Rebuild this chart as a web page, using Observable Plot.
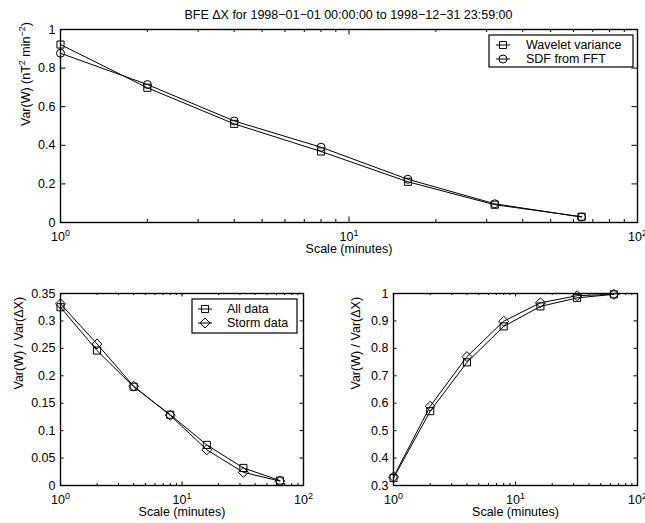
<!DOCTYPE html>
<html>
<head>
<meta charset="utf-8">
<script src="https://cdn.jsdelivr.net/npm/d3@7"></script>
<script src="https://cdn.jsdelivr.net/npm/@observablehq/plot@0.6"></script>
<style>
  html, body { margin: 0; padding: 0; background: white; }
  #wrap { position: relative; width: 645px; height: 523px; overflow: hidden; background: white;
          font-family: "Liberation Sans", Arial, Helvetica, sans-serif; }
  .abs { position: absolute; }
</style>
</head>
<body>
<div id="wrap"></div>
<script>
// ---------- data ----------
const scales = [1, 2, 4, 8, 16, 32, 64];
const waveletVariance = [0.922, 0.698, 0.511, 0.368, 0.211, 0.092, 0.030];
const sdfFromFFT      = [0.877, 0.715, 0.526, 0.390, 0.224, 0.097, 0.028];
const allData   = [0.325, 0.246, 0.180, 0.129, 0.074, 0.032, 0.009];
const stormData = [0.331, 0.258, 0.181, 0.128, 0.065, 0.024, 0.008];
const allCum    = [0.327, 0.571, 0.749, 0.880, 0.953, 0.984, 0.997];
const stormCum  = [0.331, 0.589, 0.770, 0.899, 0.966, 0.992, 0.997];
const xMajor = [1, 10, 100];
const xMinor = [2, 3, 4, 5, 6, 7, 8, 9, 20, 30, 40, 50, 60, 70, 80, 90];
const yTicksTop = [0, 0.2, 0.4, 0.6, 0.8, 1];
const yTicksBL  = [0, 0.05, 0.1, 0.15, 0.2, 0.25, 0.3, 0.35];
const yTicksBR  = [0.3, 0.4, 0.5, 0.6, 0.7, 0.8, 0.9, 1];
const titleText = "BFE \u0394X for 1998\u221201\u221201 00:00:00 to 1998\u221212\u221231 23:59:00";
const xLabel = "Scale (minutes)";
const yLabelTop = "Var(W) (nT^{2} min^{\u22122})";
const yLabelRatio = "Var(W) / Var(\u0394X)";
const legendTop = ["Wavelet variance", "SDF from FFT"];
const legendBottom = ["All data", "Storm data"];

const FONT = "Liberation Sans, Arial, Helvetica, sans-serif";
const FS = 12.5;
const wrap = document.getElementById("wrap");

function supify(svgEl) {
  svgEl.querySelectorAll("text").forEach(t => {
    const s = t.textContent;
    if (!s.includes("^")) return;
    const re = /\^\{([^}]*)\}|\^(\S)/g;
    const parts = [];
    let last = 0, m;
    while ((m = re.exec(s))) {
      if (m.index > last) parts.push({t: s.slice(last, m.index), sup: false});
      parts.push({t: m[1] != null ? m[1] : m[2], sup: true});
      last = re.lastIndex;
    }
    if (last < s.length) parts.push({t: s.slice(last), sup: false});
    t.textContent = "";
    const ns = "http://www.w3.org/2000/svg";
    let raised = false;
    parts.forEach(p => {
      const ts = document.createElementNS(ns, "tspan");
      ts.textContent = p.t;
      if (p.sup) {
        ts.setAttribute("font-size", "9");
        if (!raised) { ts.setAttribute("dy", "-5"); raised = true; }
      } else if (raised) {
        ts.setAttribute("dy", "5"); raised = false;
      }
      t.appendChild(ts);
    });
  });
}

function panel(o) {
  const fw = o.width - o.ml - o.mr, fh = o.height - o.mt - o.mb;
  const rows = vals => scales.map((s, i) => ({x: s, y: vals[i]}));
  const seriesMarks = [];
  o.series.forEach(se => {
    seriesMarks.push(Plot.line(rows(se.values), {x: "x", y: "y", stroke: "black", strokeWidth: 1}));
    seriesMarks.push(Plot.dot(rows(se.values), {x: "x", y: "y", symbol: se.symbol, r: se.r, stroke: "black", fill: "none", strokeWidth: 1}));
  });
  const svg = Plot.plot({
    width: o.width, height: o.height,
    marginLeft: o.ml, marginRight: o.mr, marginTop: o.mt, marginBottom: o.mb,
    style: {fontFamily: FONT, fontSize: FS + "px", color: "black", background: "transparent", overflow: "visible"},
    x: {type: "log", domain: [1, 100], axis: null},
    y: {domain: o.yDomain, axis: null},
    marks: [
      Plot.tickX(xMajor, {x: d => d, insetTop: fh - o.major, stroke: "black"}),
      Plot.tickX(xMajor, {x: d => d, insetBottom: fh - o.major, stroke: "black"}),
      Plot.tickX(xMinor, {x: d => d, insetTop: fh - o.minor, stroke: "black"}),
      Plot.tickX(xMinor, {x: d => d, insetBottom: fh - o.minor, stroke: "black"}),
      Plot.tickY(o.yTicks, {y: d => d, insetRight: fw - o.major, stroke: "black"}),
      Plot.tickY(o.yTicks, {y: d => d, insetLeft: fw - o.major, stroke: "black"}),
      Plot.axisX(xMajor, {tickSize: 0, tickPadding: 10, label: null, fontSize: FS,
        tickFormat: d => "10^" + Math.round(Math.log10(d))}),
      Plot.axisY(o.yTicks, {tickSize: 0, tickPadding: 5, label: null, fontSize: FS,
        tickFormat: d => String(d)}),
      Plot.text([o.ylabel], {text: d => d, frameAnchor: "left", dx: o.ylabelDx, rotate: -90, fontSize: FS, fill: "black"}),
      Plot.text([xLabel], {text: d => d, frameAnchor: "bottom", dy: 30, fontSize: FS, fill: "black"}),
      ...seriesMarks,
      Plot.frame({stroke: "black", strokeWidth: 1.4})
    ]
  });
  supify(svg);
  const div = document.createElement("div");
  div.className = "abs";
  div.style.left = o.left + "px";
  div.style.top = o.top + "px";
  div.appendChild(svg);
  wrap.appendChild(div);
}

function legend(o) {
  const svg = d3.create("svg").attr("width", o.w + 2).attr("height", o.h + 2)
    .style("position", "absolute").style("left", (o.x - 1) + "px").style("top", (o.y - 1) + "px")
    .style("overflow", "visible");
  svg.append("rect").attr("x", 1).attr("y", 1).attr("width", o.w).attr("height", o.h)
    .attr("fill", "white").attr("stroke", "black").attr("stroke-width", 1.2);
  o.items.forEach((it, i) => {
    const cy = 1 + o.rows[i];
    svg.append("line").attr("x1", 1 + o.lx1).attr("x2", 1 + o.lx2).attr("y1", cy).attr("y2", cy)
      .attr("stroke", "black").attr("stroke-width", 1);
    const r = it.r;
    const sym = d3.symbol(it.symbol, Math.PI * r * r);
    svg.append("path").attr("d", sym()).attr("transform", `translate(${1 + (o.lx1 + o.lx2) / 2},${cy})`)
      .attr("fill", "none").attr("stroke", "black").attr("stroke-width", 1);
    svg.append("text").attr("x", 1 + o.tx).attr("y", cy).attr("dy", "0.35em")
      .attr("font-family", FONT).attr("font-size", FS).attr("fill", "black").text(it.label);
  });
  wrap.appendChild(svg.node());
}

// title
{
  const svg = d3.create("svg").attr("width", 645).attr("height", 26)
    .style("position", "absolute").style("left", "0px").style("top", "0px");
  svg.append("text").attr("x", 348.5).attr("y", 19).attr("text-anchor", "middle")
    .attr("font-family", FONT).attr("font-size", FS).attr("fill", "black").text(titleText);
  wrap.appendChild(svg.node());
}

// top panel
panel({left: 0, top: 0, width: 645, height: 262, ml: 60, mr: 8, mt: 29, mb: 40,
  yDomain: [0, 1], yTicks: yTicksTop, ylabel: yLabelTop, ylabelDx: -35, major: 5.5, minor: 3,
  series: [{values: waveletVariance, symbol: "square", r: 4}, {values: sdfFromFFT, symbol: "circle", r: 4}]});

// bottom-left panel
panel({left: 0, top: 262, width: 330, height: 261, ml: 60, mr: 27, mt: 31, mb: 38,
  yDomain: [0, 0.35], yTicks: yTicksBL, ylabel: yLabelRatio, ylabelDx: -42, major: 3.5, minor: 2,
  series: [{values: allData, symbol: "square", r: 4}, {values: stormData, symbol: "diamond2", r: 4.5}]});

// bottom-right panel
panel({left: 330, top: 262, width: 315, height: 261, ml: 63, mr: 8, mt: 31, mb: 38,
  yDomain: [0.3, 1], yTicks: yTicksBR, ylabel: yLabelRatio, ylabelDx: -38, major: 3.5, minor: 2,
  series: [{values: allCum, symbol: "square", r: 4}, {values: stormCum, symbol: "diamond2", r: 4.5}]});

// legends
legend({x: 489, y: 35, w: 144, h: 32, lx1: 7, lx2: 21, tx: 37, rows: [10, 24],
  items: [{label: legendTop[0], symbol: d3.symbolSquare, r: 4}, {label: legendTop[1], symbol: d3.symbolCircle, r: 4}]});
legend({x: 192, y: 299, w: 105, h: 34, lx1: 6, lx2: 20, tx: 35, rows: [10, 24],
  items: [{label: legendBottom[0], symbol: d3.symbolSquare, r: 4}, {label: legendBottom[1], symbol: d3.symbolDiamond2, r: 4.5}]});
</script>
</body>
</html>
